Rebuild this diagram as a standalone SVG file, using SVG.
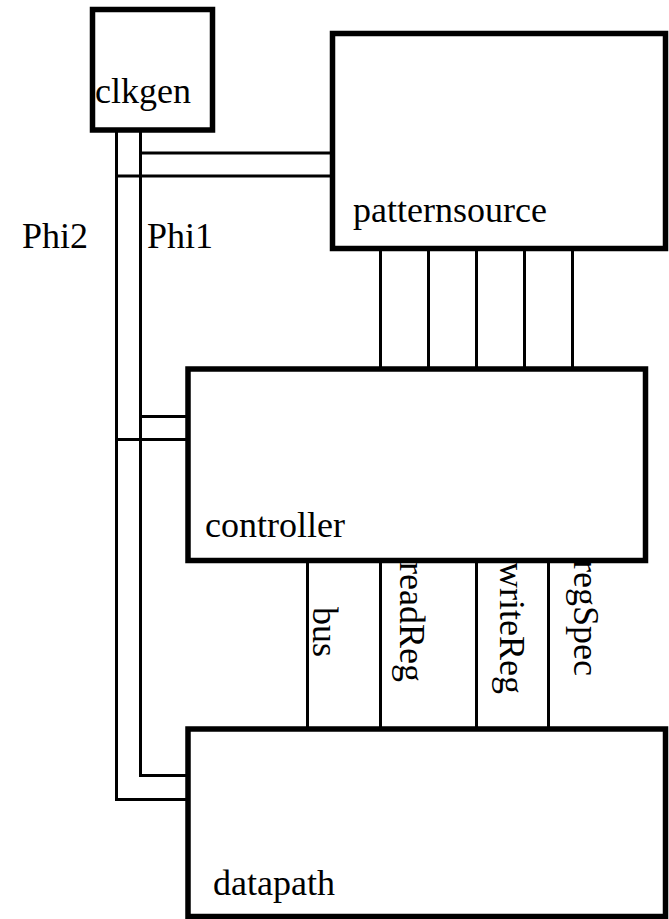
<svg xmlns="http://www.w3.org/2000/svg" width="669" height="919" viewBox="0 0 669 919">
<style>
.box{fill:#fff;stroke:#000;stroke-width:5.5}
.w{fill:none;stroke:#000;stroke-width:3}
.t{font-family:'Times New Roman',Times,'Liberation Serif','Nimbus Roman','Nimbus Roman No9 L','DejaVu Serif',serif;font-size:36px;fill:#000}
</style>
<rect width="669" height="919" fill="#fff"/>
<g id="connectors">
<polyline class="w" points="140.5,130 140.5,775.5 188,775.5"/>
<polyline class="w" points="116.5,130 116.5,799.5 188,799.5"/>
<line class="w" x1="140.5" y1="153" x2="332" y2="153"/>
<line class="w" x1="116.5" y1="176" x2="332" y2="176"/>
<line class="w" x1="140.5" y1="416.5" x2="188" y2="416.5"/>
<line class="w" x1="116.5" y1="439.5" x2="188" y2="439.5"/>
<line class="w" x1="380.5" y1="249" x2="380.5" y2="369"/>
<line class="w" x1="428.5" y1="249" x2="428.5" y2="369"/>
<line class="w" x1="476.5" y1="249" x2="476.5" y2="369"/>
<line class="w" x1="524.5" y1="249" x2="524.5" y2="369"/>
<line class="w" x1="572.5" y1="249" x2="572.5" y2="369"/>
<line class="w" x1="307.5" y1="561" x2="307.5" y2="729"/>
<line class="w" x1="380.5" y1="561" x2="380.5" y2="729"/>
<line class="w" x1="476.5" y1="561" x2="476.5" y2="729"/>
<line class="w" x1="548.5" y1="561" x2="548.5" y2="729"/>
<text class="t" x="22" y="248">Phi2</text>
<text class="t" x="147" y="248">Phi1</text>
<text class="t" transform="translate(313,607) rotate(90)">bus</text>
<text class="t" transform="translate(400,562) rotate(90)">readReg</text>
<text class="t" transform="translate(500,562) rotate(90)">writeReg</text>
<text class="t" transform="translate(574,560) rotate(90)">regSpec</text>
</g>
<g id="clkgen">
<rect class="box" x="92.5" y="9.5" width="120" height="120.5"/>
<text class="t" x="95" y="103">clkgen</text>
</g>
<g id="patternsource">
<rect class="box" x="332.5" y="33.5" width="333" height="215"/>
<text class="t" x="353" y="222">patternsource</text>
</g>
<g id="controller">
<rect class="box" x="188" y="369" width="457.5" height="191.5"/>
<text class="t" x="205" y="537">controller</text>
</g>
<g id="datapath">
<rect class="box" x="188" y="729" width="477.5" height="187.5"/>
<text class="t" x="213" y="895">datapath</text>
</g>
</svg>
